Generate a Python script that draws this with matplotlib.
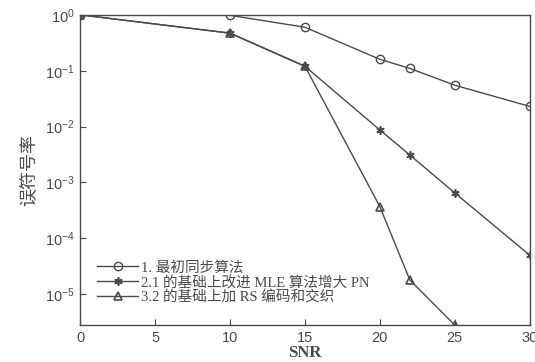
import matplotlib
matplotlib.use('Agg')
import matplotlib.pyplot as plt
from matplotlib.ticker import LogLocator, NullLocator

# 数据
snr = [0, 10, 15, 20, 22, 25, 30]
ser1 = [1.0, 0.98, 0.60, 0.16, 0.11, 0.055, 0.023]
ser2 = [1.0, 0.47, 0.12, 8.7e-3, 3.1e-3, 6.5e-4, 5.0e-5]
snr3 = [0, 10, 15, 20, 22, 25]
ser3 = [1.0, 0.47, 0.12, 3.7e-4, 1.8e-5, 2.8e-6]
labels = ['1. 最初同步算法', '2.1 的基础上改进 MLE 算法增大 PN', '3.2 的基础上加 RS 编码和交织']
xticks = [0, 5, 10, 15, 20, 25, 30]

plt.rcParams['font.family'] = ['Liberation Sans', 'Noto Sans CJK SC']
plt.rcParams['mathtext.fontset'] = 'custom'
plt.rcParams['mathtext.rm'] = 'Liberation Sans'
plt.rcParams['mathtext.default'] = 'regular'

fg = '#4a4a4a'
fig = plt.figure(figsize=(5.35, 3.62), dpi=100)
ax = fig.add_axes([0.15, 0.102, 0.84, 0.857])

ax.semilogy(snr, ser1, '-o', color=fg, lw=1.0, ms=6, mfc='none', mew=1.0, label=labels[0])
ax.semilogy(snr, ser2, '-', marker=(6, 2, 0), color=fg, lw=1.0, ms=6, mew=1.2, label=labels[1])
ax.semilogy(snr3, ser3, '-^', color=fg, lw=1.0, ms=6, mfc='none', mew=1.2, label=labels[2])

ax.set_xlim(0, 30)
ax.set_ylim(2.8e-6, 1.0)
ax.set_xticks(xticks)
ax.yaxis.set_major_locator(LogLocator(base=10, numticks=10))
ax.yaxis.set_minor_locator(NullLocator())
ax.tick_params(direction='in', length=4, colors=fg, labelsize=10.5, pad=4)
for s in ax.spines.values():
    s.set_color(fg)
    s.set_linewidth(1.0)

ax.set_xlabel('SNR', fontsize=12, fontweight='bold', family=['Liberation Serif'], color=fg, labelpad=0)
ax.set_ylabel('误符号率', fontsize=13, family=['Noto Sans CJK SC'], color=fg, labelpad=5)

leg = ax.legend(loc='upper left', bbox_to_anchor=(0.015, 0.24), frameon=False,
                prop={'family': ['Liberation Serif', 'Noto Sans CJK SC'], 'size': 10.5},
                handlelength=2.8, handletextpad=0.2, labelspacing=0.05, borderaxespad=0.3)
for t in leg.get_texts():
    t.set_color(fg)

fig.savefig('out.png', dpi=100)
